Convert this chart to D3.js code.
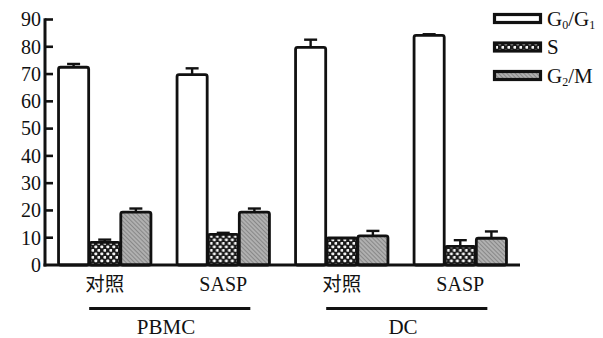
<!DOCTYPE html>
<html>
<head>
<meta charset="utf-8">
<script src="https://cdn.jsdelivr.net/npm/d3@7/dist/d3.min.js"></script>
<style>
  body { margin: 0; background: #fff; }
  svg { display: block; }
</style>
</head>
<body>
<svg id="chart" width="603" height="338"></svg>
<script>
// Cell-cycle distribution (%) for PBMC and DC, control vs SASP
const groups = ["PBMC-对照", "PBMC-SASP", "DC-对照", "DC-SASP"];
const groupLabels = ["对照", "SASP", "对照", "SASP"];
const cellTypes = ["PBMC", "DC"];            // each spans two consecutive groups
const seriesKeys = ["g0g1", "s", "g2m"];

const g0g1Values = [72.5, 69.8, 79.8, 84.2];
const g0g1Errors = [1.2, 2.3, 2.8, 0.4];
const sValues    = [8.3, 11.2, 9.9, 6.8];
const sErrors    = [1.0, 0.6, 0.0, 2.3];
const g2mValues  = [19.4, 19.4, 10.7, 9.8];
const g2mErrors  = [1.3, 1.3, 1.8, 2.5];

const yTicks = [0, 10, 20, 30, 40, 50, 60, 70, 80, 90];

const seriesValues = { g0g1: g0g1Values, s: sValues, g2m: g2mValues };
const seriesErrors = { g0g1: g0g1Errors, s: sErrors, g2m: g2mErrors };

const SERIF = '"Liberation Serif"';
const CJK = '"Noto Sans CJK SC"';

const svg = d3.select("#chart");

// ---- patterns ----
const defs = svg.append("defs");
const check = defs.append("pattern")
  .attr("id", "pat-s").attr("patternUnits", "userSpaceOnUse")
  .attr("width", 6).attr("height", 7);
check.append("rect").attr("width", 6).attr("height", 7).attr("fill", "#1a1a1a");
check.append("rect").attr("x", 0.4).attr("y", 0.4).attr("width", 2.8).attr("height", 2.8)
  .attr("rx", 0.8).attr("fill", "#f4f4f4");
check.append("rect").attr("x", 3.4).attr("y", 3.9).attr("width", 2.8).attr("height", 2.8)
  .attr("rx", 0.8).attr("fill", "#f4f4f4");

const hatch = defs.append("pattern")
  .attr("id", "pat-g2m").attr("patternUnits", "userSpaceOnUse")
  .attr("width", 3).attr("height", 3)
  .attr("patternTransform", "rotate(-45)");
hatch.append("rect").attr("width", 3).attr("height", 3).attr("fill", "#b0b0b0");
hatch.append("line").attr("x1", 0).attr("y1", 0).attr("x2", 0).attr("y2", 3)
  .attr("stroke", "#666").attr("stroke-width", 1.1);

const fills = { g0g1: "#ffffff", s: "url(#pat-s)", g2m: "url(#pat-g2m)" };

// ---- scales ----
const axisX = 45, plotRight = 520;
const y = d3.scaleLinear().domain([0, 90]).range([265, 19.5]);
const x0 = d3.scaleBand().domain(groups).range([axisX, plotRight])
  .paddingInner(0.212).paddingOuter(0.11);
const x1 = d3.scaleBand().domain(seriesKeys).range([0, x0.bandwidth()]).padding(0);

// ---- bars ----
const groupSel = svg.append("g").selectAll("g")
  .data(groups).join("g")
  .attr("transform", d => `translate(${x0(d)},0)`);

const barData = i => seriesKeys.map(k => ({ key: k, v: seriesValues[k][i], e: seriesErrors[k][i] }));

groupSel.each(function (g, i) {
  const sel = d3.select(this);
  const data = barData(i);
  // error bars (drawn first, bars cover the stem)
  data.filter(d => d.e > 0).forEach(d => {
    const cx = x1(d.key) + x1.bandwidth() / 2;
    sel.append("line")
      .attr("x1", cx).attr("x2", cx)
      .attr("y1", y(d.v)).attr("y2", y(d.v + d.e))
      .attr("stroke", "#111").attr("stroke-width", 2.4);
    sel.append("line")
      .attr("x1", cx - 6.5).attr("x2", cx + 6.5)
      .attr("y1", y(d.v + d.e)).attr("y2", y(d.v + d.e))
      .attr("stroke", "#111").attr("stroke-width", 2.4);
  });
  sel.selectAll("rect.bar").data(data).join("rect")
    .attr("class", "bar")
    .attr("x", d => x1(d.key) + 0.5)
    .attr("width", x1.bandwidth() - 1)
    .attr("y", d => y(d.v))
    .attr("height", d => y(0) - y(d.v))
    .attr("rx", 2)
    .attr("fill", d => fills[d.key])
    .attr("stroke", "#111").attr("stroke-width", 2.8);
});

// ---- axes ----
const yAxis = svg.append("g");
yAxis.append("line")
  .attr("x1", axisX).attr("x2", axisX)
  .attr("y1", y(90) - 1.2).attr("y2", y(0) + 1.5)
  .attr("stroke", "#111").attr("stroke-width", 3);
yAxis.selectAll("line.tick").data(yTicks.filter(t => t > 0)).join("line")
  .attr("class", "tick")
  .attr("x1", axisX).attr("x2", axisX + 8)
  .attr("y1", d => y(d)).attr("y2", d => y(d))
  .attr("stroke", "#111").attr("stroke-width", 2.6);
yAxis.selectAll("text").data(yTicks).join("text")
  .attr("x", axisX - 4).attr("y", d => y(d))
  .attr("dy", "0.34em")
  .attr("text-anchor", "end")
  .style("font-family", SERIF)
  .style("font-size", "20px")
  .attr("fill", "#111")
  .text(d => d);

svg.append("line")
  .attr("x1", axisX - 1.5).attr("x2", plotRight)
  .attr("y1", y(0)).attr("y2", y(0))
  .attr("stroke", "#111").attr("stroke-width", 3);

// ---- category labels ----
svg.append("g").selectAll("text").data(groups).join("text")
  .attr("x", d => x0(d) + x0.bandwidth() / 2)
  .attr("y", 291)
  .attr("text-anchor", "middle")
  .style("font-family", (d, i) => groupLabels[i] === "对照" ? CJK : SERIF)
  .style("font-size", (d, i) => groupLabels[i] === "对照" ? "19.5px" : "20px")
  .attr("fill", "#111")
  .text((d, i) => groupLabels[i]);

// ---- cell-type brackets ----
cellTypes.forEach((c, i) => {
  const gA = groups[i * 2], gB = groups[i * 2 + 1];
  const xa = x0(gA) + x0.bandwidth() / 3;
  const xb = x0(gB) + x0.bandwidth() * 0.79;
  svg.append("line")
    .attr("x1", xa).attr("x2", xb).attr("y1", 308.5).attr("y2", 308.5)
    .attr("stroke", "#111").attr("stroke-width", 3);
  const mid = (x0(gA) + x0(gB) + x0.bandwidth()) / 2;
  svg.append("text")
    .attr("x", mid + 2).attr("y", 334)
    .attr("text-anchor", "middle")
    .style("font-family", SERIF)
    .style("font-size", "21px")
    .attr("fill", "#111")
    .text(c);
});

// ---- legend ----
const legendItems = [
  { key: "g0g1", parts: [["G", false], ["0", true], ["/G", false], ["1", true]] },
  { key: "s",    parts: [["S", false]] },
  { key: "g2m",  parts: [["G", false], ["2", true], ["/M", false]] }
];
const legend = svg.append("g");
legendItems.forEach((it, i) => {
  const cy = 18.5 + i * 28.5;
  legend.append("rect")
    .attr("x", 494.5).attr("y", cy - 4).attr("width", 46).attr("height", 8)
    .attr("fill", fills[it.key])
    .attr("stroke", "#111").attr("stroke-width", 3.2);
  const t = legend.append("text")
    .attr("x", 547).attr("y", cy + 7)
    .style("font-family", SERIF)
    .style("font-size", "21px")
    .attr("fill", "#111");
  let prevSub = false;
  it.parts.forEach(([s, sub]) => {
    const ts = t.append("tspan").text(s);
    if (sub) { ts.style("font-size", "12px").attr("dy", 3); }
    else if (prevSub) { ts.attr("dy", -3); }
    prevSub = sub;
  });
});
</script>
</body>
</html>
